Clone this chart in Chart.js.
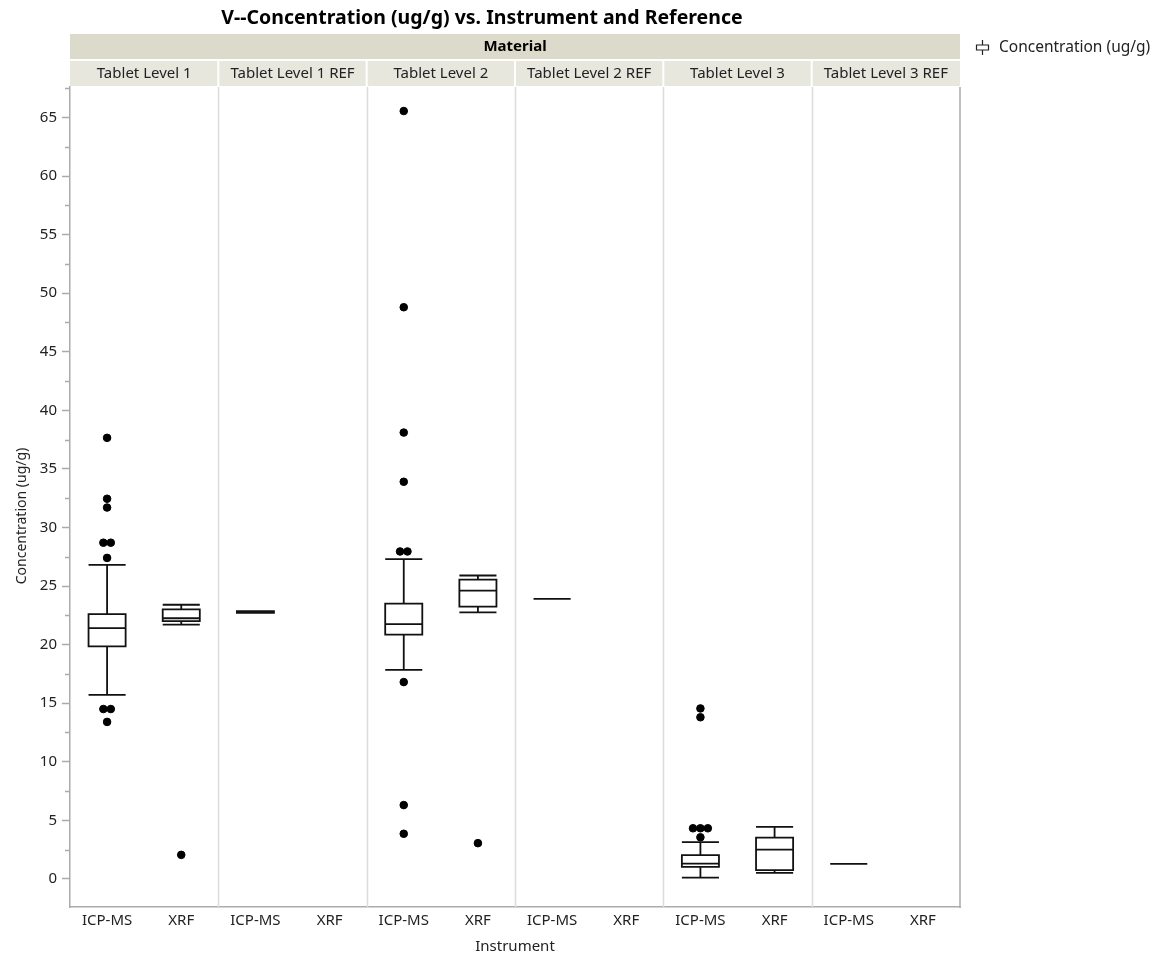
<!DOCTYPE html>
<html>
<head>
<meta charset="utf-8">
<script src="https://cdn.jsdelivr.net/npm/chart.js@4.4.0/dist/chart.umd.min.js"></script>
<style>
  html, body { margin: 0; padding: 0; background: #fff; }
  #wrap { width: 1157px; height: 956px; }
</style>
</head>
<body>
<div id="wrap"><canvas id="chart"></canvas></div>
<script>
const materials = ["Tablet Level 1", "Tablet Level 1 REF", "Tablet Level 2", "Tablet Level 2 REF", "Tablet Level 3", "Tablet Level 3 REF"];
const instruments = ["ICP-MS", "XRF"];
const yTicks = [0, 5, 10, 15, 20, 25, 30, 35, 40, 45, 50, 55, 60, 65];

// one entry per material x instrument (12), null = no data
const whiskerLow  = [15.7, 21.7, 22.7,  null, 17.85, 22.75, 23.9, null, 0.11, 0.51, 1.28, null];
const quart1      = [19.85, 22.0, 22.7, null, 20.85, 23.25, 23.9, null, 1.02, 0.74, 1.28, null];
const medians     = [21.4, 22.25, 22.78, null, 21.75, 24.6, 23.9, null, 1.3, 2.5, 1.28, null];
const quart3      = [22.6, 23.0, 22.85, null, 23.5, 25.55, 23.9, null, 2.02, 3.53, 1.28, null];
const whiskerHigh = [26.8, 23.4, 22.85, null, 27.3, 25.9, 23.9, null, 3.13, 4.44, 1.28, null];
const outliers = [
  [37.65, 32.45, 31.7, 28.7, 28.7, 27.4, 14.5, 14.5, 13.4],
  [2.05],
  [], [],
  [65.55, 48.8, 38.1, 33.9, 27.95, 27.95, 16.8, 6.3, 3.85],
  [3.05],
  [], [],
  [14.55, 13.8, 4.32, 4.32, 4.32, 3.55],
  [], [], []
];

const FONT = "'Noto Sans', sans-serif";
const TXT = "#222";
const AXIS = "#ababab";

// outlier points; equal values are spread sideways like the original
const outlierPoints = [];
outliers.forEach((vals, i) => {
  const groups = {};
  vals.forEach(v => { (groups[v] = groups[v] || []).push(v); });
  Object.values(groups).forEach(g => {
    g.forEach((v, k) => outlierPoints.push({ x: i + (k - (g.length - 1) / 2) * 0.1, y: v }));
  });
});

const facetPlugin = {
  id: "facets",
  beforeDatasetsDraw(chart) {
    const { ctx, chartArea: a, scales: { x, y } } = chart;
    ctx.save();
    // panel separators
    ctx.strokeStyle = "#dcdcdc";
    ctx.lineWidth = 1.5;
    for (let p = 1; p < materials.length; p++) {
      const px = Math.round(x.getPixelForValue(p * 2 - 0.5)) + 0.5;
      ctx.beginPath(); ctx.moveTo(px, a.top); ctx.lineTo(px, a.bottom); ctx.stroke();
    }
    // right frame
    ctx.strokeStyle = AXIS;
    ctx.lineWidth = 1.5;
    ctx.beginPath(); ctx.moveTo(a.right, a.top); ctx.lineTo(a.right, a.bottom + 1); ctx.stroke();

    // boxes
    ctx.strokeStyle = "#111";
    ctx.lineWidth = 1.8;
    for (let i = 0; i < quart1.length; i++) {
      if (quart1[i] === null) continue;
      const xl = x.getPixelForValue(i - 0.25), xr = x.getPixelForValue(i + 0.25), xc = x.getPixelForValue(i);
      const yLo = y.getPixelForValue(whiskerLow[i]), yQ1 = y.getPixelForValue(quart1[i]);
      const yMd = y.getPixelForValue(medians[i]), yQ3 = y.getPixelForValue(quart3[i]);
      const yHi = y.getPixelForValue(whiskerHigh[i]);
      ctx.fillStyle = "#fff";
      ctx.fillRect(xl, yQ3, xr - xl, yQ1 - yQ3);
      ctx.beginPath();
      ctx.rect(xl, yQ3, xr - xl, yQ1 - yQ3);
      ctx.moveTo(xl, yMd); ctx.lineTo(xr, yMd);
      ctx.moveTo(xc, yQ3); ctx.lineTo(xc, yHi);
      ctx.moveTo(xl, yHi); ctx.lineTo(xr, yHi);
      ctx.moveTo(xc, yQ1); ctx.lineTo(xc, yLo);
      ctx.moveTo(xl, yLo); ctx.lineTo(xr, yLo);
      ctx.stroke();
    }
    ctx.restore();
  },
  afterDraw(chart) {
    const { ctx, chartArea: a, scales: { x, y } } = chart;
    ctx.save();
    // minor y ticks
    ctx.strokeStyle = AXIS;
    ctx.lineWidth = 1.5;
    for (let v = 2.5; v < y.max; v += 5) {
      const py = Math.round(y.getPixelForValue(v)) + 0.5;
      ctx.beginPath(); ctx.moveTo(a.left - 5, py); ctx.lineTo(a.left, py); ctx.stroke();
    }
    // title
    ctx.fillStyle = "#000";
    ctx.textAlign = "center";
    ctx.textBaseline = "middle";
    ctx.font = "bold 19.5px " + FONT;
    ctx.fillText("V--Concentration (ug/g) vs. Instrument and Reference", 482, 18);

    // header bands
    ctx.fillStyle = "#dcdacb";
    ctx.fillRect(a.left, 34, a.right - a.left, 25);
    ctx.fillStyle = "#000";
    ctx.font = "bold 15px " + FONT;
    ctx.fillText("Material", (a.left + a.right) / 2, 47);
    ctx.font = "15px " + FONT;
    materials.forEach((m, p) => {
      const l = x.getPixelForValue(p * 2 - 0.5), r = x.getPixelForValue(p * 2 + 1.5);
      ctx.fillStyle = "#e8e7de";
      ctx.fillRect(l + (p ? 1 : 0), 61, r - l - (p ? 1 : 0) - (p < materials.length - 1 ? 1 : 0), 25);
      ctx.fillStyle = TXT;
      ctx.fillText(m, (l + r) / 2, 74);
    });

    // y axis title
    ctx.save();
    ctx.translate(22, 516);
    ctx.rotate(-Math.PI / 2);
    ctx.font = "14px " + FONT;
    ctx.fillText("Concentration (ug/g)", 0, 0);
    ctx.restore();

    // legend
    ctx.strokeStyle = "#222";
    ctx.lineWidth = 1.2;
    ctx.beginPath();
    ctx.moveTo(982.5, 40); ctx.lineTo(982.5, 45);
    ctx.rect(976.5, 45, 12, 5);
    ctx.moveTo(982.5, 50); ctx.lineTo(982.5, 55);
    ctx.stroke();
    ctx.fillStyle = TXT;
    ctx.textAlign = "left";
    ctx.font = "15.5px " + FONT;
    ctx.fillText("Concentration (ug/g)", 999, 48);
    ctx.restore();
  }
};

new Chart(document.getElementById("chart"), {
  type: "scatter",
  data: {
    datasets: [{
      label: "Concentration (ug/g)",
      data: outlierPoints,
      backgroundColor: "#000",
      borderColor: "#000",
      pointRadius: 3.8,
      pointHoverRadius: 3.8
    }]
  },
  options: {
    responsive: true,
    maintainAspectRatio: false,
    animation: false,
    layout: { padding: { top: 87, right: 197, left: 0, bottom: 0 } },
    plugins: { legend: { display: false }, tooltip: { enabled: false } },
    scales: {
      x: {
        type: "linear",
        min: -0.5,
        max: 11.5,
        afterBuildTicks: s => { s.ticks = outliers.map((_, i) => ({ value: i })); },
        afterFit: s => { s.height = 49; },
        ticks: {
          callback: v => instruments[v % 2],
          color: TXT,
          font: { family: FONT, size: 15 },
          padding: 5,
          maxRotation: 0,
          autoSkip: false
        },
        grid: { display: false, drawTicks: false },
        border: { display: true, color: AXIS, width: 1.5 },
        title: {
          display: true,
          text: "Instrument",
          color: TXT,
          font: { family: FONT, size: 15 },
          padding: { top: 0, bottom: 0 }
        }
      },
      y: {
        min: -2.4,
        max: 67.6,
        afterBuildTicks: s => { s.ticks = yTicks.map(v => ({ value: v })); },
        afterFit: s => { s.width = 70; },
        ticks: {
          color: TXT,
          font: { family: FONT, size: 15 },
          padding: 5
        },
        grid: { drawOnChartArea: false, drawTicks: true, tickLength: 8, tickColor: AXIS, tickWidth: 1.5 },
        border: { display: true, color: AXIS, width: 1.5 }
      }
    }
  },
  plugins: [facetPlugin]
});
</script>
</body>
</html>
